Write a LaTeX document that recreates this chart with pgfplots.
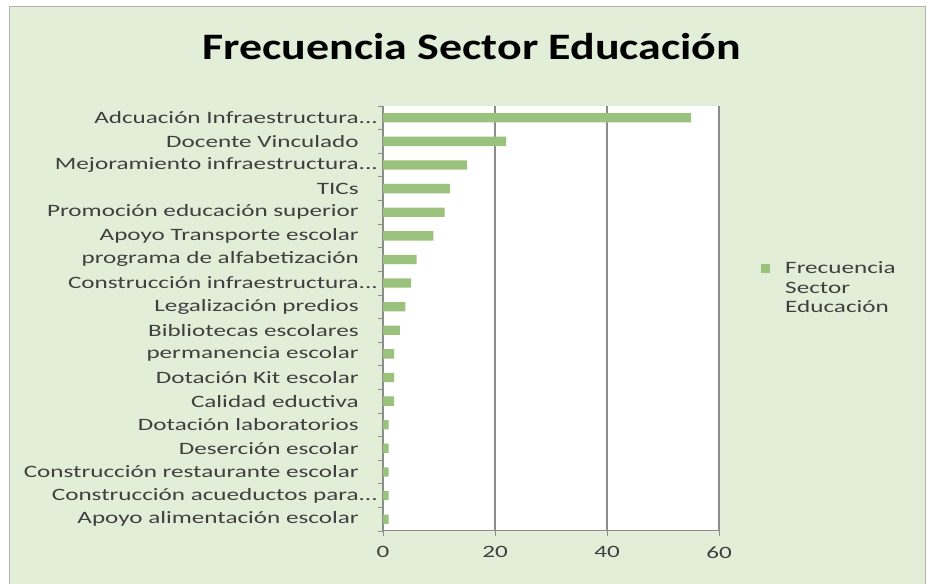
\documentclass[border=0pt]{standalone}
\usepackage{fontspec}
\setmainfont{Carlito}[FakeStretch=1.45]
\newfontfamily\titlefont{Carlito}[FakeStretch=1.23]
\usepackage{pgfplots}
\pgfplotsset{compat=1.18}

\definecolor{bgcol}{RGB}{227,238,216}
\definecolor{barcol}{RGB}{155,194,125}
\definecolor{labelcol}{RGB}{64,64,64}
\definecolor{gridcol}{RGB}{140,140,140}

\begin{document}
\begin{tikzpicture}[x=0.75pt,y=0.75pt]
\useasboundingbox (0,0) rectangle (928,584);
\fill[white] (0,0) rectangle (928,584);
\filldraw[fill=bgcol, draw=gray!60] (9,-2) rectangle (925,578);
\node[font=\titlefont\bfseries\fontsize{28}{30}\selectfont] at (472,537) {Frecuencia Sector Educación};

\begin{axis}[
    at={(287.25pt,39.75pt)}, anchor=south west,
    scale only axis, width=252pt, height=318.75pt,
    axis background/.style={fill=white},
    xbar, bar width=7pt,
    xmin=0, xmax=60, xtick={0,20,40,60},
    ymin=-0.5, ymax=17.5, y dir=reverse,
    ytick={0,...,17},
    yticklabels={
        Adcuación Infraestructura\rlap{...},
        Docente Vinculado,
        Mejoramiento infraestructura\rlap{...},
        TICs,
        Promoción educación superior,
        Apoyo Transporte escolar,
        programa de alfabetización,
        Construcción infraestructura\rlap{...},
        Legalización predios,
        Bibliotecas escolares,
        permanencia escolar,
        Dotación Kit escolar,
        Calidad eductiva,
        Dotación laboratorios,
        Deserción escolar,
        Construcción restaurante escolar,
        Construcción acueductos para\rlap{...},
        Apoyo alimentación escolar},
    axis x line*=bottom, axis y line*=left,
    axis line style={gridcol, line width=0.75pt},
    xmajorgrids, major grid style={gridcol, line width=0.9pt},
    y tick style={draw=none},
    x tick style={gridcol, line width=0.75pt},
    tick align=outside, major tick length=4pt,
    extra y ticks={-0.5,0.5,...,17.5},
    extra y tick labels={},
    extra y tick style={y tick style={draw=gridcol, line width=0.5pt}, major tick length=4pt},
    yticklabel style={font=\fontsize{13}{14}\selectfont, text=labelcol, anchor=east, inner sep=0pt, xshift=-14pt},
    xticklabel style={font=\fontsize{13}{14}\selectfont, text=labelcol, yshift=-4pt},
    /pgf/number format/assume math mode=true,
    legend style={at={(1.113,0.647)}, anchor=north west, draw=none, fill=none,
        font=\fontsize{13}{14.6}\selectfont, nodes={align=left, text=labelcol}},
    legend image code/.code={\fill[barcol] (0pt,11.1pt) rectangle (6.75pt,17.9pt);
        \path[draw=none, fill=none] (0pt,11pt) rectangle (16pt,12pt);},
]
\addplot[fill=barcol, draw=none] coordinates {
    (55,0) (22,1) (15,2) (12,3) (11,4) (9,5) (6,6) (5,7) (4,8)
    (3,9) (2,10) (2,11) (2,12) (1,13) (1,14) (1,15) (1,16) (1,17)};
\addlegendentry{Frecuencia\\Sector\\Educación}
\end{axis}
\end{tikzpicture}
\end{document}
